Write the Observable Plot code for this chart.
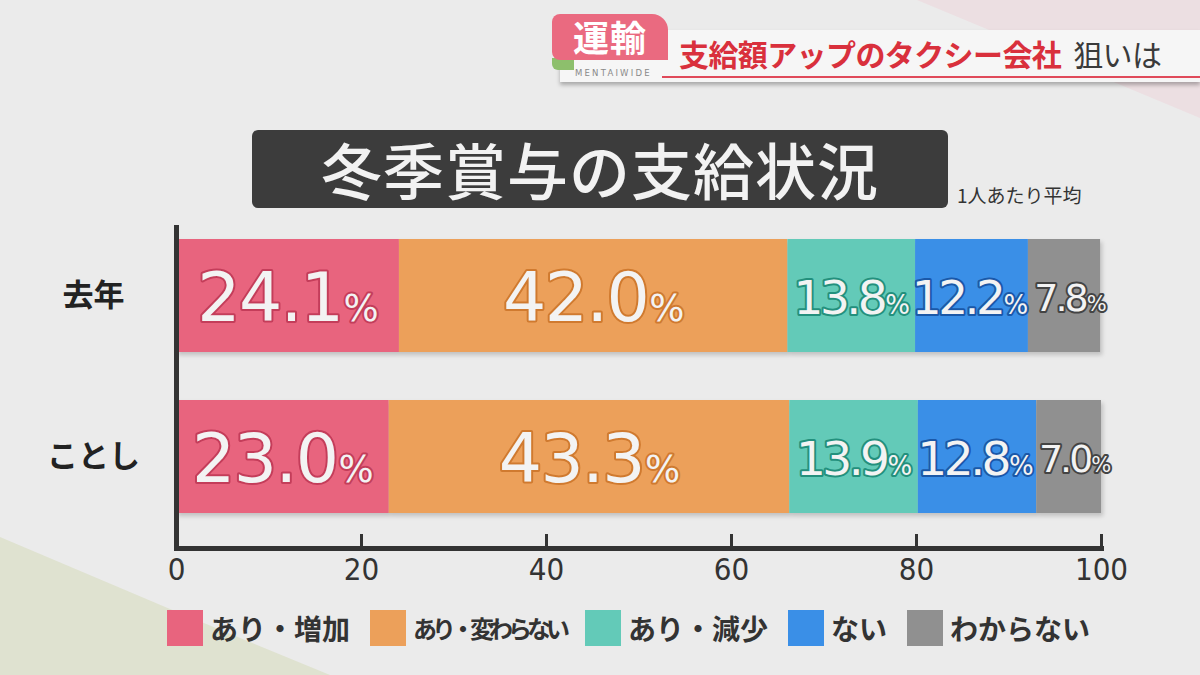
<!DOCTYPE html>
<html><head><meta charset="utf-8">
<script src="https://cdn.jsdelivr.net/npm/d3@7"></script>
<script src="https://cdn.jsdelivr.net/npm/@observablehq/plot@0.6"></script>
<style>
body{margin:0;background:#ebebeb;}
#page{position:relative;width:1200px;height:675px;background:#ebebeb;overflow:hidden;font-family:"Noto Sans CJK JP","Noto Sans",sans-serif;}
.abs{position:absolute;}
#band{left:560px;top:30px;width:640px;height:52px;background:#f6f6f6;box-shadow:0 3px 4px rgba(0,0,0,0.28);}
#tab{left:552px;top:14px;width:116px;height:46px;background:#ea6a80;border-radius:8px 16px 0 8px;color:#fff;font-weight:bold;font-size:36px;line-height:44px;text-align:center;letter-spacing:1px;}
#green{left:552px;top:58px;width:22px;height:12px;background:#8dbf6c;border-radius:0 0 0 6px;}
#mw{left:575px;top:68px;font-family:"DejaVu Sans",sans-serif;font-size:8.5px;color:#8a8a8a;letter-spacing:2.2px;}
#redline{left:662px;top:76px;width:538px;height:1.5px;background:#e04a5a;}
#headline{left:679px;top:30px;font-size:30px;font-weight:bold;color:#d9303c;line-height:46px;white-space:nowrap;letter-spacing:-0.6px;}
#headline span{color:#3a3a3a;font-weight:normal;margin-left:12px;}
#titlebox{left:252px;top:130px;width:696px;height:78px;background:#3c3c3c;border-radius:6px;color:#f2f2f2;font-size:61px;font-weight:500;line-height:78px;text-align:center;letter-spacing:1px;}
#note{left:957px;top:181px;font-size:19px;color:#333;}
#chart{left:0;top:215px;}
#legend{left:167px;top:610px;display:flex;align-items:center;white-space:nowrap;}
.item{display:flex;align-items:center;margin-right:20px;}
.sw{width:36px;height:36px;margin-right:7px;}
.lab{font-size:28px;font-weight:bold;color:#333;line-height:36px;}
</style></head>
<body><div id="page">
<svg class="abs" style="left:0;top:0" width="1200" height="675">
  <polygon points="917,0 1200,0 1200,118" fill="#ecdfe2"/>
  <polygon points="0,537 170,609 330,675 0,675" fill="#dfe2d0"/>
</svg>
<div id="band" class="abs"></div>
<div id="redline" class="abs"></div>
<div id="green" class="abs"></div>
<div id="tab" class="abs">運輸</div>
<div id="mw" class="abs">MENTAIWIDE</div>
<div id="headline" class="abs">支給額アップのタクシー会社<span>狙いは</span></div>
<div id="titlebox" class="abs">冬季賞与の支給状況</div>
<div id="note" class="abs">1人あたり平均</div>
<div id="chart" class="abs"></div>
<div id="legend" class="abs"></div>
</div>
<script>
const years = ["去年", "ことし"];
const categories = ["あり・増加", "あり・変わらない", "あり・減少", "ない", "わからない"];
const lastYear = [24.1, 42.0, 13.8, 12.2, 7.8];
const thisYear = [23.0, 43.3, 13.9, 12.8, 7.0];
const colors = ["#e8647e", "#eca05a", "#63cab8", "#3a8fe7", "#909090"];
const outlineColors = ["#c43d5a", "#d07a2f", "#23907d", "#1a58a8", "#444444"];
const xTicks = [0, 20, 40, 60, 80, 100];

// build rows with cumulative start/end
const rows = [];
[lastYear, thisYear].forEach((vals, i) => {
  let acc = 0;
  vals.forEach((v, j) => {
    rows.push({year: years[i], cat: categories[j], ci: j, value: v, x1: acc, x2: acc + v, mid: acc + v / 2});
    acc += v;
  });
});

const sizeFor = v => v >= 20 ? 68 : v >= 10 ? 47 : 38;

const labelMarks = categories.map((c, j) => Plot.text(rows.filter(d => d.ci === j), {
  x: "mid", y: "year",
  text: d => d.value.toFixed(1) + "%",
  fontSize: d => sizeFor(d.value),
  fontFamily: "DejaVu Sans",
  fill: "#f3f3f3",
  stroke: outlineColors[j],
  strokeWidth: 4,
  paintOrder: "stroke",
  strokeLinejoin: "round",
  dy: 3,
  dx: j === 4 ? 6 : j === 3 ? -2 : 0
}));

const chart = Plot.plot({
  width: 1200, height: 385,
  marginLeft: 176, marginRight: 99, marginTop: 10, marginBottom: 52,
  style: {background: "transparent", overflow: "visible", fontFamily: "'Liberation Sans Narrow','DejaVu Sans Condensed',sans-serif"},
  x: {domain: [0, 100], axis: null},
  y: {domain: years, paddingInner: 0.3, paddingOuter: 0.148, align: 0.29, axis: null},
  color: {domain: categories, range: colors},
  marks: [
    Plot.barX(rows, {x1: "x1", x2: "x2", y: "year", fill: "cat"}),
    ...labelMarks,
    Plot.ruleX([0], {stroke: "#333", strokeWidth: 5}),
    Plot.ruleX(xTicks, {x: d => d, stroke: "#333", strokeWidth: 3, insetTop: 309}),
    Plot.frame({anchor: "bottom", stroke: "#333", strokeWidth: 5, strokeLinecap: "square"}),
    Plot.axisX({ticks: xTicks, tickSize: 0, tickPadding: 9, fontSize: 31, fill: "#333", label: null}),
    Plot.axisY({tickSize: 0, tickPadding: 83, textAnchor: "middle", fontSize: 31, fontWeight: "bold", fill: "#222", fontFamily: "Noto Sans CJK JP", label: null})
  ]
});
document.getElementById("chart").appendChild(chart);

// bar shadow
d3.select(chart).selectAll('g[aria-label="bar"]').style("filter", "drop-shadow(2px 3px 2px rgba(0,0,0,0.18))");
// smaller % sign, tighter spacing for narrow segments
d3.select(chart).selectAll('g[aria-label="text"] text').each(function() {
  const t = d3.select(this);
  const s = t.text();
  const fs = +t.attr("font-size") || parseFloat(this.style.fontSize) || 50;
  t.text(null);
  t.attr("letter-spacing", fs < 45 ? -3 : fs < 60 ? -3.5 : -1.5);
  t.append("tspan").text(s.slice(0, -1));
  t.append("tspan").attr("font-size", Math.round(fs * 0.55)).attr("letter-spacing", 0).attr("dx", 1).text("%");
});

// legend
const legend = d3.select("#legend");
categories.forEach((c, j) => {
  const it = legend.append("div").attr("class", "item");
  it.append("div").attr("class", "sw").style("background", colors[j]);
  const lab = it.append("div").attr("class", "lab").text(c);
  if (c.length > 6) lab.style("font-size", "24px").style("letter-spacing", "-5px");
});
</script>
</body></html>
